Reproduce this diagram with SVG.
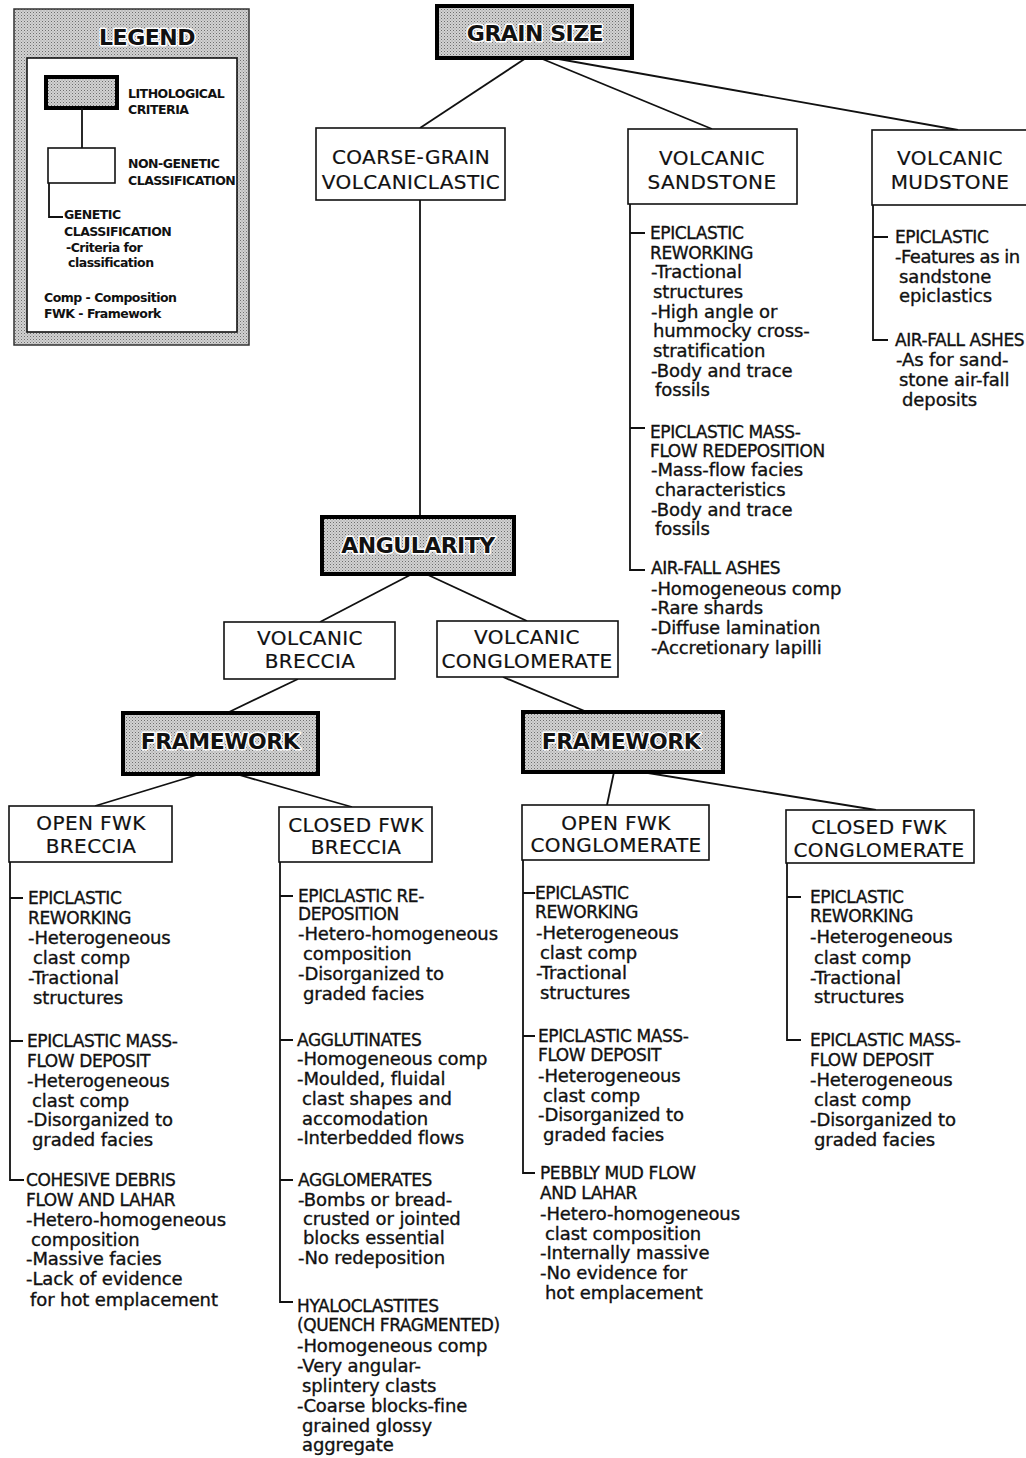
<svg xmlns="http://www.w3.org/2000/svg" width="1026" height="1458" viewBox="0 0 1026 1458">
<defs>
<pattern id="dots" width="3" height="3" patternUnits="userSpaceOnUse">
<rect width="3" height="3" fill="#d2d2d2"/>
<rect width="1" height="1" fill="#6e6e6e"/>
<rect x="1.5" y="1.5" width="1" height="1" fill="#929292"/>
</pattern>
</defs>
<style>
text{font-family:"DejaVu Sans","Liberation Sans",sans-serif;fill:#111}
.t{font-size:18px;letter-spacing:-0.1px;stroke:#111;stroke-width:0.35px}
.u{font-size:17px;letter-spacing:-0.4px}
.h{font-size:20px;text-anchor:middle;letter-spacing:0.4px;stroke:#111;stroke-width:0.2px}
.b{font-size:22px;font-weight:bold;text-anchor:middle;letter-spacing:-0.5px;stroke:#fff;stroke-width:3px;paint-order:stroke;stroke-linejoin:round}
.lg{font-size:12.5px;font-weight:bold;letter-spacing:-0.5px}
.box{fill:#fff;stroke:#111;stroke-width:1.6}
.gbox{fill:url(#dots);stroke:#000;stroke-width:4}
.ln{stroke:#111;stroke-width:1.8;fill:none}
</style>
<rect width="1026" height="1458" fill="#fff"/>

<g id="legend">
<rect x="14" y="9" width="235" height="336" fill="url(#dots)" stroke="#333" stroke-width="1.5"/>
<text class="b" x="147" y="45">LEGEND</text>
<rect x="27" y="58" width="210" height="274" class="box"/>
<rect x="46" y="77" width="71" height="31" class="gbox" stroke-width="3.5"/>
<path class="ln" d="M82 108 V148"/>
<rect x="48" y="148" width="67" height="35" class="box"/>
<path class="ln" d="M49 183 V217 H63"/>
<text class="lg" x="128" y="98">LITHOLOGICAL</text>
<text class="lg" x="128" y="114">CRITERIA</text>
<text class="lg" x="128" y="168">NON-GENETIC</text>
<text class="lg" x="128" y="185">CLASSIFICATION</text>
<text class="lg" x="64" y="219">GENETIC</text>
<text class="lg" x="64" y="236">CLASSIFICATION</text>
<text class="lg" x="66" y="252">-Criteria for</text>
<text class="lg" x="68" y="267">classification</text>
<text class="lg" x="44" y="302">Comp - Composition</text>
<text class="lg" x="44" y="318">FWK - Framework</text>
</g>

<g id="connectors">
<path class="ln" d="M526 58 L420 128"/>
<path class="ln" d="M540 58 L712 129"/>
<path class="ln" d="M553 58 L958 130"/>
<path class="ln" d="M420 200 V517"/>
<path class="ln" d="M630 204 V570 H645 M630 233 H645 M630 428 H645"/>
<path class="ln" d="M873 205 V340 H888 M873 237 H888"/>
<path class="ln" d="M412 574 L320 622"/>
<path class="ln" d="M426 574 L527 621"/>
<path class="ln" d="M298 679 L227 713"/>
<path class="ln" d="M503 677 L587 712"/>
<path class="ln" d="M200 774 L95 806"/>
<path class="ln" d="M236 774 L352 807"/>
<path class="ln" d="M614 772 L607 805"/>
<path class="ln" d="M642 772 L876 810"/>
<path class="ln" d="M10 862 V1180 H24 M10 898 H23 M10 1041 H23"/>
<path class="ln" d="M280 862 V1302 H293 M280 896 H293 M280 1040 H293 M280 1180 H293"/>
<path class="ln" d="M523 860 V1173 H535 M523 893 H535 M523 1036 H535"/>
<path class="ln" d="M787 863 V1040 H801 M787 897 H801"/>
</g>

<g id="grain-size">
<rect x="437" y="6" width="195" height="52" class="gbox"/>
<text class="b" x="535" y="41">GRAIN SIZE</text>
</g>

<g id="coarse-grain">
<rect x="316" y="128" width="189" height="72" class="box"/>
<text class="h" x="411" y="164">COARSE-GRAIN</text>
<text class="h" x="411" y="189">VOLCANICLASTIC</text>
</g>

<g id="volcanic-sandstone">
<rect x="628" y="129" width="169" height="75" class="box"/>
<text class="h" x="712" y="165">VOLCANIC</text>
<text class="h" x="712" y="189">SANDSTONE</text>
</g>

<g id="volcanic-mudstone">
<rect x="872" y="130" width="160" height="75" class="box"/>
<text class="h" x="950" y="165">VOLCANIC</text>
<text class="h" x="950" y="189">MUDSTONE</text>
</g>

<g id="sandstone-genetic">
<text class="t u" x="650" y="239">EPICLASTIC</text>
<text class="t u" x="650" y="259">REWORKING</text>
<text class="t" x="651" y="278">-Tractional</text>
<text class="t" x="653" y="298">structures</text>
<text class="t" x="651" y="318">-High angle or</text>
<text class="t" x="653" y="337">hummocky cross-</text>
<text class="t" x="653" y="357">stratification</text>
<text class="t" x="651" y="377">-Body and trace</text>
<text class="t" x="655" y="396">fossils</text>
<text class="t u" x="650" y="438">EPICLASTIC MASS-</text>
<text class="t u" x="650" y="457">FLOW REDEPOSITION</text>
<text class="t" x="651" y="476">-Mass-flow facies</text>
<text class="t" x="655" y="496">characteristics</text>
<text class="t" x="651" y="516">-Body and trace</text>
<text class="t" x="655" y="535">fossils</text>
<text class="t u" x="651" y="574">AIR-FALL ASHES</text>
<text class="t" x="651" y="595">-Homogeneous comp</text>
<text class="t" x="651" y="614">-Rare shards</text>
<text class="t" x="651" y="634">-Diffuse lamination</text>
<text class="t" x="651" y="654">-Accretionary lapilli</text>
</g>

<g id="mudstone-genetic">
<text class="t u" x="895" y="243">EPICLASTIC</text>
<text class="t" x="895" y="263" style="letter-spacing:-0.5px">-Features as in</text>
<text class="t" x="899" y="283">sandstone</text>
<text class="t" x="899" y="302">epiclastics</text>
<text class="t u" x="895" y="346">AIR-FALL ASHES</text>
<text class="t" x="896" y="366">-As for sand-</text>
<text class="t" x="899" y="386">stone air-fall</text>
<text class="t" x="902" y="406">deposits</text>
</g>

<g id="angularity">
<rect x="322" y="517" width="192" height="57" class="gbox"/>
<text class="b" x="418" y="553">ANGULARITY</text>
</g>

<g id="volcanic-breccia">
<rect x="224" y="622" width="171" height="57" class="box"/>
<text class="h" x="310" y="645">VOLCANIC</text>
<text class="h" x="310" y="668">BRECCIA</text>
</g>

<g id="volcanic-conglomerate">
<rect x="437" y="621" width="181" height="56" class="box"/>
<text class="h" x="527" y="644">VOLCANIC</text>
<text class="h" x="527" y="668">CONGLOMERATE</text>
</g>

<g id="framework-breccia">
<rect x="123" y="713" width="195" height="61" class="gbox"/>
<text class="b" x="220" y="749">FRAMEWORK</text>
</g>

<g id="framework-conglomerate">
<rect x="523" y="712" width="200" height="60" class="gbox"/>
<text class="b" x="621" y="749">FRAMEWORK</text>
</g>

<g id="open-fwk-breccia">
<rect x="9" y="806" width="163" height="56" class="box"/>
<text class="h" x="91" y="830">OPEN FWK</text>
<text class="h" x="91" y="853">BRECCIA</text>
</g>

<g id="closed-fwk-breccia">
<rect x="279" y="807" width="153" height="55" class="box"/>
<text class="h" x="356" y="832">CLOSED FWK</text>
<text class="h" x="356" y="854">BRECCIA</text>
</g>

<g id="open-fwk-conglomerate">
<rect x="522" y="805" width="187" height="55" class="box"/>
<text class="h" x="616" y="830">OPEN FWK</text>
<text class="h" x="616" y="852">CONGLOMERATE</text>
</g>

<g id="closed-fwk-conglomerate">
<rect x="786" y="810" width="188" height="53" class="box"/>
<text class="h" x="879" y="834">CLOSED FWK</text>
<text class="h" x="879" y="857">CONGLOMERATE</text>
</g>

<g id="open-breccia-genetic">
<text class="t u" x="28" y="904">EPICLASTIC</text>
<text class="t u" x="28" y="924">REWORKING</text>
<text class="t" x="28" y="944">-Heterogeneous</text>
<text class="t" x="33" y="964">clast comp</text>
<text class="t" x="28" y="984">-Tractional</text>
<text class="t" x="33" y="1004">structures</text>
<text class="t u" x="27" y="1047">EPICLASTIC MASS-</text>
<text class="t u" x="27" y="1067">FLOW DEPOSIT</text>
<text class="t" x="27" y="1087">-Heterogeneous</text>
<text class="t" x="32" y="1107">clast comp</text>
<text class="t" x="27" y="1126">-Disorganized to</text>
<text class="t" x="32" y="1146">graded facies</text>
<text class="t u" x="26" y="1186">COHESIVE DEBRIS</text>
<text class="t u" x="26" y="1206">FLOW AND LAHAR</text>
<text class="t" x="26" y="1226">-Hetero-homogeneous</text>
<text class="t" x="31" y="1246">composition</text>
<text class="t" x="26" y="1265">-Massive facies</text>
<text class="t" x="26" y="1285">-Lack of evidence</text>
<text class="t" x="30" y="1306">for hot emplacement</text>
</g>

<g id="closed-breccia-genetic">
<text class="t u" x="298" y="902">EPICLASTIC RE-</text>
<text class="t u" x="298" y="920">DEPOSITION</text>
<text class="t" x="298" y="940">-Hetero-homogeneous</text>
<text class="t" x="303" y="960">composition</text>
<text class="t" x="298" y="980">-Disorganized to</text>
<text class="t" x="303" y="1000">graded facies</text>
<text class="t u" x="297" y="1046">AGGLUTINATES</text>
<text class="t" x="297" y="1065">-Homogeneous comp</text>
<text class="t" x="297" y="1085">-Moulded, fluidal</text>
<text class="t" x="302" y="1105">clast shapes and</text>
<text class="t" x="302" y="1125">accomodation</text>
<text class="t" x="297" y="1144">-Interbedded flows</text>
<text class="t u" x="298" y="1186">AGGLOMERATES</text>
<text class="t" x="298" y="1206">-Bombs or bread-</text>
<text class="t" x="303" y="1225">crusted or jointed</text>
<text class="t" x="303" y="1244">blocks essential</text>
<text class="t" x="298" y="1264">-No redeposition</text>
<text class="t u" x="297" y="1312">HYALOCLASTITES</text>
<text class="t u" x="297" y="1331">(QUENCH FRAGMENTED)</text>
<text class="t" x="297" y="1352">-Homogeneous comp</text>
<text class="t" x="297" y="1372">-Very angular-</text>
<text class="t" x="302" y="1392">splintery clasts</text>
<text class="t" x="297" y="1412">-Coarse blocks-fine</text>
<text class="t" x="302" y="1432">grained glossy</text>
<text class="t" x="302" y="1451">aggregate</text>
</g>

<g id="open-conglomerate-genetic">
<text class="t u" x="535" y="899">EPICLASTIC</text>
<text class="t u" x="535" y="918">REWORKING</text>
<text class="t" x="536" y="939">-Heterogeneous</text>
<text class="t" x="540" y="959">clast comp</text>
<text class="t" x="536" y="979">-Tractional</text>
<text class="t" x="540" y="999">structures</text>
<text class="t u" x="538" y="1042">EPICLASTIC MASS-</text>
<text class="t u" x="538" y="1061">FLOW DEPOSIT</text>
<text class="t" x="538" y="1082">-Heterogeneous</text>
<text class="t" x="543" y="1102">clast comp</text>
<text class="t" x="538" y="1121">-Disorganized to</text>
<text class="t" x="543" y="1141">graded facies</text>
<text class="t u" x="540" y="1179">PEBBLY MUD FLOW</text>
<text class="t u" x="540" y="1199">AND LAHAR</text>
<text class="t" x="540" y="1220">-Hetero-homogeneous</text>
<text class="t" x="545" y="1240">clast composition</text>
<text class="t" x="540" y="1259">-Internally massive</text>
<text class="t" x="540" y="1279">-No evidence for</text>
<text class="t" x="545" y="1299">hot emplacement</text>
</g>

<g id="closed-conglomerate-genetic">
<text class="t u" x="810" y="903">EPICLASTIC</text>
<text class="t u" x="810" y="922">REWORKING</text>
<text class="t" x="810" y="943">-Heterogeneous</text>
<text class="t" x="814" y="964">clast comp</text>
<text class="t" x="810" y="984">-Tractional</text>
<text class="t" x="814" y="1003">structures</text>
<text class="t u" x="810" y="1046">EPICLASTIC MASS-</text>
<text class="t u" x="810" y="1066">FLOW DEPOSIT</text>
<text class="t" x="810" y="1086">-Heterogeneous</text>
<text class="t" x="814" y="1106">clast comp</text>
<text class="t" x="810" y="1126">-Disorganized to</text>
<text class="t" x="814" y="1146">graded facies</text>
</g>
</svg>
